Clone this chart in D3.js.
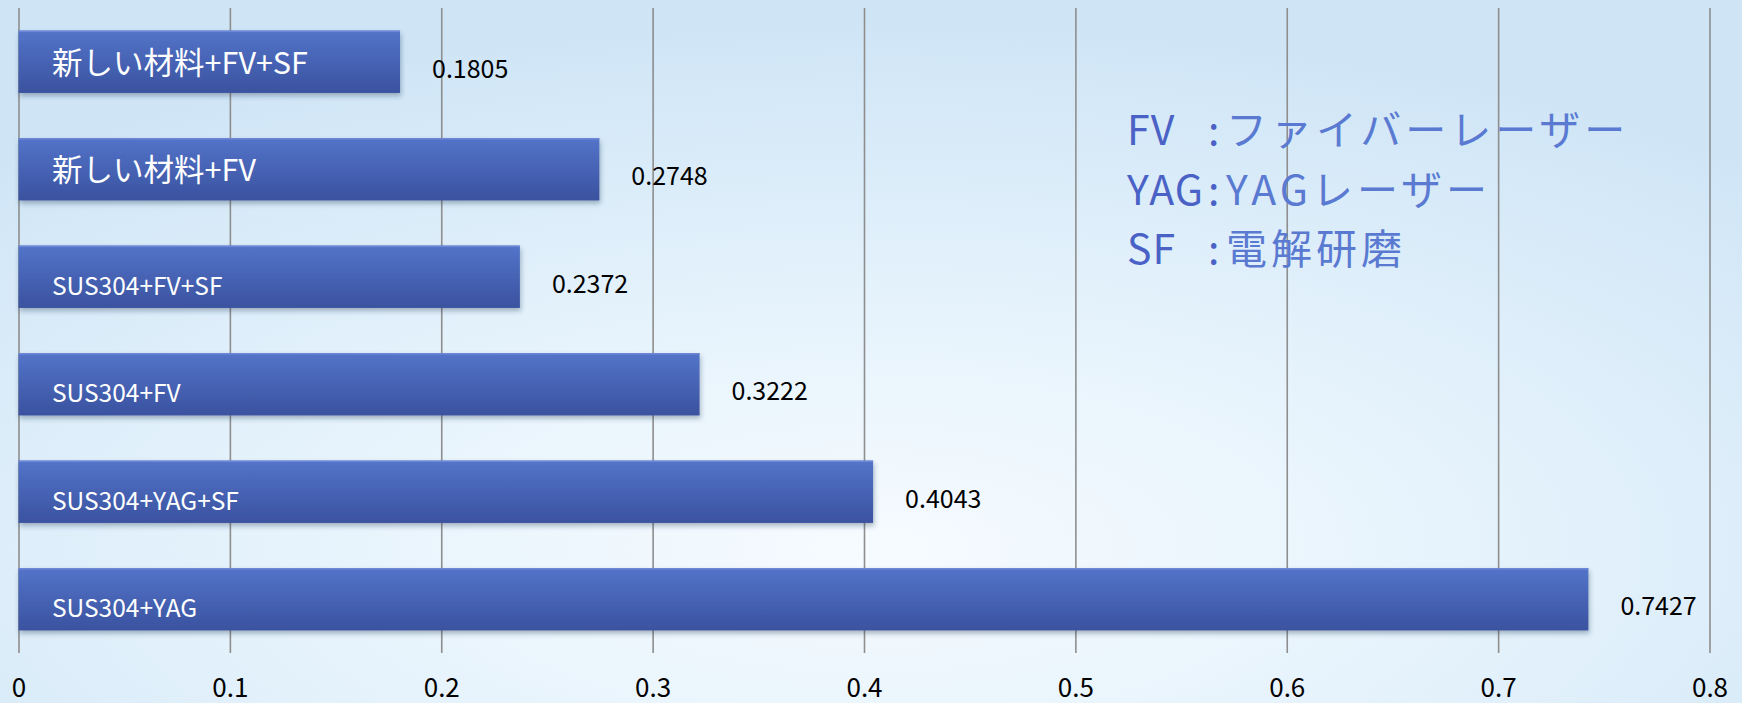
<!DOCTYPE html>
<html>
<head>
<meta charset="utf-8">
<script src="https://cdn.jsdelivr.net/npm/d3@7"></script>
<style>
  html, body { margin: 0; padding: 0; background: #fff; }
  svg { display: block; }
</style>
</head>
<body>
<svg id="chart"></svg>
<script>
// data
const categories = ["新しい材料+FV+SF", "新しい材料+FV", "SUS304+FV+SF", "SUS304+FV", "SUS304+YAG+SF", "SUS304+YAG"];
const values = [0.1805, 0.2748, 0.2372, 0.3222, 0.4043, 0.7427];
const valueLabels = ["0.1805", "0.2748", "0.2372", "0.3222", "0.4043", "0.7427"];
const tickValues = [0, 0.1, 0.2, 0.3, 0.4, 0.5, 0.6, 0.7, 0.8];
const tickLabels = ["0", "0.1", "0.2", "0.3", "0.4", "0.5", "0.6", "0.7", "0.8"];
const legendKeys = ["FV", "YAG", "SF"];
const legendValues = ["ファイバーレーザー", "YAGレーザー", "電解研磨"];

const width = 1742;
const height = 703;
const plotTop = 8;
const plotBottom = 653;
const font = "'Noto Sans CJK JP', 'Noto Sans', sans-serif";

const svg = d3.select("#chart").attr("width", width).attr("height", height);
const defs = svg.append("defs");

// background
const bg = defs.append("radialGradient")
    .attr("id", "bg")
    .attr("cx", "50%").attr("cy", "78%").attr("r", "75%")
    .attr("gradientUnits", "objectBoundingBox");
bg.append("stop").attr("offset", "0%").attr("stop-color", "#f6fbff");
bg.append("stop").attr("offset", "45%").attr("stop-color", "#e6f3fc");
bg.append("stop").attr("offset", "100%").attr("stop-color", "#cfe5f6");

const barGrad = defs.append("linearGradient")
    .attr("id", "barGrad")
    .attr("x1", "0").attr("y1", "0").attr("x2", "0").attr("y2", "1");
barGrad.append("stop").attr("offset", "0%").attr("stop-color", "#5374c9");
barGrad.append("stop").attr("offset", "100%").attr("stop-color", "#3a529f");

const shadow = defs.append("filter")
    .attr("id", "shadow")
    .attr("x", "-5%").attr("y", "-20%").attr("width", "110%").attr("height", "160%");
shadow.append("feDropShadow")
    .attr("dx", 1).attr("dy", 3)
    .attr("stdDeviation", 2.5)
    .attr("flood-color", "#203050")
    .attr("flood-opacity", 0.35);

svg.append("rect")
    .attr("width", width).attr("height", height)
    .attr("fill", "url(#bg)");

// scales
const x = d3.scaleLinear()
    .domain([0, 0.8])
    .range([18.5, 1709.5]);

const y = d3.scaleBand()
    .domain(categories)
    .range([plotTop, plotBottom])
    .paddingInner(0.42)
    .paddingOuter(0.21);

// grid + axis labels
const axis = svg.append("g")
    .attr("class", "x-axis")
    .attr("transform", "translate(0," + plotBottom + ")")
    .call(d3.axisBottom(x)
        .tickValues(tickValues)
        .tickFormat((d, i) => tickLabels[i])
        .tickSize(-(plotBottom - plotTop)));

axis.select(".domain").remove();
axis.selectAll(".tick line")
    .attr("stroke", "#8e8e8e")
    .attr("stroke-width", 1.6);
axis.selectAll(".tick text")
    .attr("y", 44)
    .attr("dy", 0)
    .attr("fill", "#000")
    .style("font-family", font)
    .style("font-size", "26px");

// bars
const bars = svg.append("g").attr("class", "main")
    .selectAll("g.bar")
    .data(categories)
    .enter().append("g")
    .attr("class", "bar");

bars.append("rect")
    .attr("x", x(0))
    .attr("y", d => y(d))
    .attr("width", (d, i) => x(values[i]) - x(0))
    .attr("height", y.bandwidth())
    .attr("fill", "url(#barGrad)")
    .attr("filter", "url(#shadow)");

// top highlight
bars.append("rect")
    .attr("x", x(0))
    .attr("y", d => y(d))
    .attr("width", (d, i) => x(values[i]) - x(0))
    .attr("height", 1.5)
    .attr("fill", "#6d88d6");

// category labels inside bars
bars.append("text")
    .attr("x", 52)
    .attr("y", d => y(d) + y.bandwidth() / 2)
    .attr("dy", d => /^SUS/.test(d) ? 18 : 12)
    .attr("fill", "#fff")
    .style("font-family", font)
    .style("font-size", d => /^SUS/.test(d) ? "24.5px" : "30.5px")
    .text(d => d);

// value labels
bars.append("text")
    .attr("x", (d, i) => x(values[i]) + 32)
    .attr("y", d => y(d) + y.bandwidth() / 2)
    .attr("dy", 16)
    .attr("fill", "#000")
    .style("font-family", font)
    .style("font-size", "25px")
    .text((d, i) => valueLabels[i]);

// legend: a single text block, rows as tspans
const legend = svg.append("text")
    .attr("class", "legend")
    .style("font-family", font)
    .style("font-size", "41px");

legendKeys.forEach((k, i) => {
    const rowY = 145 + i * 59.5;
    legend.append("tspan")
        .attr("x", 1127).attr("y", rowY)
        .attr("fill", "#4a62c6")
        .style("letter-spacing", "1px")
        .text(k);
    legend.append("tspan")
        .attr("x", 1208).attr("y", rowY)
        .attr("fill", "#4a62c6")
        .text(":");
    legend.append("tspan")
        .attr("x", 1226).attr("y", rowY)
        .attr("fill", "#5a7ad2")
        .style("letter-spacing", "4px")
        .text(legendValues[i]);
});
</script>
</body>
</html>
